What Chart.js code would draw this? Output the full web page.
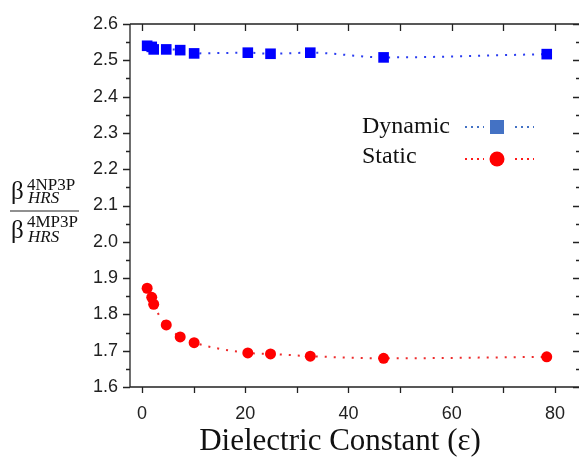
<!DOCTYPE html>
<html lang="en">
<head>
    <meta charset="UTF-8">
    <title>Dielectric constant</title>
    <script src="https://cdn.jsdelivr.net/npm/chart.js@4.4.1/dist/chart.umd.min.js"></script>
    <style>
        body { margin: 0; background: #fff; }
        #wrap { width: 579px; height: 458px; }
    </style>
</head>
<body>
    <div id="wrap"><canvas id="ratioChart"></canvas></div>
    <script>
        // dielectric constants of the solvents
        var epsilon = [1, 1.89, 2.27, 4.7, 7.4, 10.1, 20.5, 24.9, 32.6, 46.8, 78.4];
        var dynamicRatio = [2.540, 2.537, 2.530, 2.530, 2.528, 2.519, 2.521, 2.518, 2.521, 2.508, 2.517];
        var staticRatio = [1.872, 1.847, 1.828, 1.771, 1.738, 1.722, 1.694, 1.691, 1.685, 1.679, 1.683];
        var xTicks = [0, 20, 40, 60, 80];
        var yTicks = [1.6, 1.7, 1.8, 1.9, 2.0, 2.1, 2.2, 2.3, 2.4, 2.5, 2.6];

        function pts(ys) {
            return epsilon.map(function (x, i) { return { x: x, y: ys[i] }; });
        }

        // frame, ticks, y label and legend
        var extras = {
            id: 'extras',
            afterDraw: function (chart) {
                var ctx = chart.ctx, a = chart.chartArea;
                var xs = chart.scales.x, ys = chart.scales.y;
                ctx.save();
                ctx.strokeStyle = '#222';
                ctx.lineWidth = 1.3;
                ctx.beginPath();
                ctx.moveTo(a.left, a.top); ctx.lineTo(a.right, a.top);
                ctx.moveTo(a.left, a.top); ctx.lineTo(a.left, a.bottom);
                ctx.lineTo(a.right, a.bottom);
                // x ticks every 10
                for (var v = 0; v <= 80; v += 10) {
                    var px = Math.round(xs.getPixelForValue(v)) + 0.5;
                    ctx.moveTo(px, a.bottom); ctx.lineTo(px, a.bottom + 6);
                    ctx.moveTo(px, a.top); ctx.lineTo(px, a.top + 7);
                }
                // y ticks every 0.05
                for (var k = 0; k <= 20; k++) {
                    var val = 1.6 + k * 0.05;
                    var py = Math.round(ys.getPixelForValue(val)) + 0.5;
                    var len = k % 2 === 0 ? 7 : 4;
                    ctx.moveTo(a.left - len, py); ctx.lineTo(a.left, py);
                    ctx.moveTo(a.right, py); ctx.lineTo(a.right - len + 1, py);
                }
                ctx.stroke();

                // x title
                ctx.fillStyle = '#111';
                ctx.font = '31px "Liberation Serif"';
                ctx.textAlign = 'center';
                ctx.textBaseline = 'alphabetic';
                ctx.fillText('Dielectric Constant (\u03b5)', 340, 450);

                // y label as a fraction
                ctx.textAlign = 'left';
                ctx.font = '25px "Liberation Serif"';
                ctx.fillText('\u03b2', 11, 199);
                ctx.fillText('\u03b2', 11, 238);
                ctx.font = '17px "Liberation Serif"';
                ctx.fillText('4NP3P', 27, 190);
                ctx.fillText('4MP3P', 27, 227);
                ctx.font = 'italic 17px "Liberation Serif"';
                ctx.fillText('HRS', 28, 203);
                ctx.fillText('HRS', 28, 242);
                ctx.lineWidth = 1.2;
                ctx.beginPath();
                ctx.moveTo(10, 211); ctx.lineTo(79, 211);
                ctx.stroke();

                // legend
                ctx.font = '24px "Liberation Serif"';
                ctx.fillText('Dynamic', 362, 133);
                ctx.fillText('Static', 362, 163);
                ctx.lineWidth = 2;
                ctx.setLineDash([2, 4]);
                ctx.strokeStyle = '#4472c4';
                ctx.beginPath();
                ctx.moveTo(465, 127); ctx.lineTo(484, 127);
                ctx.moveTo(515, 127); ctx.lineTo(534, 127);
                ctx.stroke();
                ctx.strokeStyle = '#ff1a1a';
                ctx.beginPath();
                ctx.moveTo(465, 159); ctx.lineTo(484, 159);
                ctx.moveTo(515, 159); ctx.lineTo(534, 159);
                ctx.stroke();
                ctx.setLineDash([]);
                ctx.fillStyle = '#4472c4';
                ctx.fillRect(490, 120, 14, 14);
                ctx.fillStyle = '#ff0000';
                ctx.beginPath();
                ctx.arc(497, 159, 7.5, 0, Math.PI * 2);
                ctx.fill();
                ctx.restore();
            }
        };

        var chart = new Chart(document.getElementById('ratioChart'), {
            type: 'line',
            data: {
                datasets: [{
                    label: 'Dynamic',
                    data: pts(dynamicRatio),
                    borderColor: '#2a3cf0',
                    backgroundColor: '#0000ff',
                    borderWidth: 2,
                    borderDash: [2, 7],
                    cubicInterpolationMode: 'monotone',
                    pointStyle: 'rect',
                    pointRadius: 7.5,
                    pointBorderWidth: 0,
                    pointBackgroundColor: '#0000ff'
                }, {
                    label: 'Static',
                    data: pts(staticRatio),
                    borderColor: '#ee2b2b',
                    backgroundColor: '#ff0000',
                    borderWidth: 2,
                    borderDash: [2, 7],
                    cubicInterpolationMode: 'monotone',
                    pointStyle: 'circle',
                    pointRadius: 5.5,
                    pointBorderWidth: 0,
                    pointBackgroundColor: '#ff0000'
                }]
            },
            options: {
                responsive: true,
                maintainAspectRatio: false,
                animation: false,
                layout: { autoPadding: false, padding: { top: 24, right: 0, left: 0, bottom: 0 } },
                plugins: { legend: { display: false }, tooltip: { enabled: false } },
                scales: {
                    x: {
                        type: 'linear',
                        min: -2.32,
                        max: 84.65,
                        grid: { display: false },
                        border: { display: false },
                        afterBuildTicks: function (s) { s.ticks = xTicks.map(function (v) { return { value: v }; }); },
                        afterFit: function (s) { s.height = 71; s.paddingLeft = 0; s.paddingRight = 0; },
                        ticks: {
                            padding: 8,
                            color: '#222',
                            font: { family: '"Liberation Sans"', size: 18 },
                            maxRotation: 0
                        }
                    },
                    y: {
                        min: 1.6,
                        max: 2.6,
                        grid: { display: false },
                        border: { display: false },
                        afterBuildTicks: function (s) { s.ticks = yTicks.map(function (v) { return { value: v }; }); },
                        afterFit: function (s) { s.width = 130; s.paddingTop = 0; s.paddingBottom = 0; },
                        ticks: {
                            padding: 4,
                            color: '#222',
                            font: { family: '"Liberation Sans"', size: 18 },
                            callback: function (v) { return Number(v).toFixed(1); }
                        }
                    }
                }
            },
            plugins: [extras]
        });
    </script>
</body>
</html>
